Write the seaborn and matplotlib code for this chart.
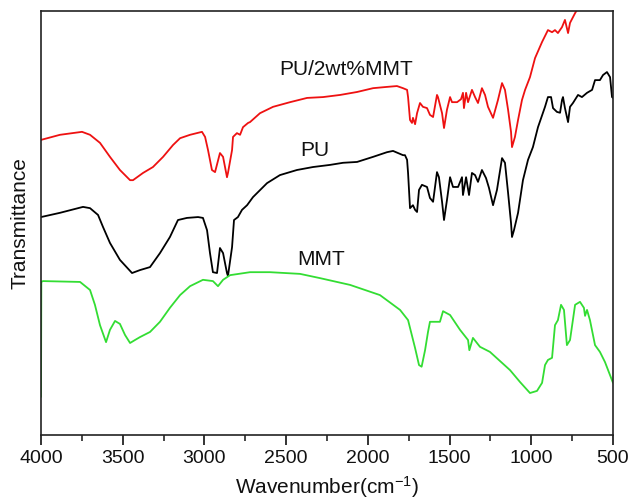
import matplotlib
matplotlib.use("Agg")
import matplotlib.pyplot as plt
import seaborn as sns
import pandas as pd
from matplotlib.ticker import MultipleLocator

# ---- data ----
wn_pumt = [4000, 3884, 3749, 3700, 3639, 3578, 3517, 3455, 3437, 3376, 3315, 3253, 3192, 3149,
           3088, 3015, 2996, 2978, 2954, 2935, 2905, 2886, 2862, 2856, 2831, 2825, 2801, 2782,
           2764, 2733, 2721, 2660, 2580, 2476, 2372, 2274, 2170, 2066, 1968, 1883, 1822, 1785,
           1760, 1754, 1742, 1730, 1724, 1711, 1699, 1681, 1663, 1638, 1620, 1601, 1577, 1571,
           1546, 1534, 1516, 1497, 1485, 1454, 1430, 1418, 1412, 1399, 1387, 1363, 1344, 1326,
           1302, 1283, 1265, 1234, 1204, 1179, 1161, 1142, 1124, 1118, 1100, 1081, 1057, 1038,
           1008, 977, 934, 898, 873, 855, 837, 812, 794, 775, 763, 732, 702, 641, 500]
t_pumt = [69.6, 70.8, 71.5, 70.8, 68.9, 65.6, 62.5, 60.1, 60.1, 61.8, 63.2, 65.6, 68.4, 70.0,
          70.8, 71.5, 70.3, 67.2, 62.5, 62.0, 66.5, 65.6, 60.8, 61.8, 67.2, 70.3, 71.2, 70.8,
          72.6, 73.6, 73.8, 75.9, 77.4, 78.5, 79.5, 79.7, 80.2, 80.9, 81.8, 82.1, 82.3, 81.8,
          81.4, 79.7, 74.3, 73.6, 74.8, 73.3, 75.9, 78.3, 77.4, 77.1, 75.5, 75.0, 80.2, 79.7,
          75.9, 72.4, 76.7, 79.7, 78.5, 78.5, 79.2, 80.7, 77.1, 80.7, 78.5, 81.4, 79.7, 78.3,
          81.8, 80.2, 77.4, 74.8, 79.0, 83.0, 81.4, 76.7, 71.5, 67.9, 70.3, 74.3, 79.0, 81.4,
          84.4, 88.9, 92.7, 95.5, 95.0, 95.5, 94.8, 96.2, 97.9, 94.8, 97.2, 99.5, 101.4, 105.0, 107.0]

wn_pu = [4000, 3884, 3743, 3700, 3651, 3621, 3578, 3517, 3443, 3394, 3333, 3272, 3211, 3162,
         3107, 3039, 3009, 2984, 2966, 2948, 2923, 2905, 2886, 2862, 2856, 2831, 2819, 2795,
         2770, 2739, 2703, 2617, 2538, 2434, 2336, 2232, 2152, 2066, 1968, 1883, 1846, 1785,
         1773, 1760, 1754, 1742, 1724, 1711, 1699, 1687, 1669, 1638, 1620, 1601, 1577, 1565,
         1546, 1534, 1516, 1497, 1479, 1448, 1424, 1418, 1399, 1381, 1363, 1344, 1326, 1302,
         1277, 1259, 1234, 1210, 1179, 1161, 1142, 1124, 1118, 1106, 1081, 1051, 1020, 990,
         959, 916, 898, 879, 867, 843, 824, 812, 806, 794, 775, 763, 745, 714, 690, 659, 628,
         610, 580, 561, 537, 518, 506, 500]
t_pu = [51.4, 52.4, 53.8, 53.5, 51.9, 49.1, 45.3, 41.3, 38.2, 38.9, 39.6, 42.9, 46.7, 50.7,
        51.2, 51.4, 51.2, 48.3, 42.9, 38.4, 38.2, 44.1, 42.9, 38.2, 37.5, 44.3, 50.7, 51.4,
        53.1, 54.2, 56.1, 59.4, 61.3, 62.5, 63.2, 63.7, 64.2, 64.4, 65.6, 66.7, 67.0, 66.0,
        66.0, 64.9, 61.8, 53.5, 54.2, 53.1, 52.6, 57.8, 59.0, 58.5, 55.9, 55.0, 62.0, 60.8,
        55.0, 50.7, 55.4, 60.8, 58.5, 58.5, 60.8, 56.6, 60.8, 56.6, 61.8, 61.3, 59.7, 62.5,
        60.6, 58.3, 54.2, 57.8, 65.3, 64.2, 57.1, 50.0, 46.7, 48.3, 52.4, 60.1, 64.9, 67.9,
        72.6, 77.4, 79.7, 79.7, 77.1, 76.2, 76.0, 79.0, 79.7, 77.1, 73.8, 77.4, 78.3, 80.2,
        79.7, 80.7, 81.4, 83.7, 83.7, 84.9, 85.6, 84.4, 79.7, 79.5]

wn_mmt = [4000, 3998, 3988, 3761, 3700, 3670, 3639, 3602, 3578, 3547, 3517, 3486, 3455, 3425,
          3394, 3333, 3272, 3211, 3149, 3088, 3009, 2948, 2917, 2886, 2843, 2721, 2599, 2415,
          2293, 2109, 1926, 1803, 1754, 1711, 1687, 1671, 1650, 1632, 1620, 1559, 1540, 1497,
          1436, 1387, 1379, 1357, 1314, 1253, 1130, 1069, 1008, 965, 934, 916, 898, 873, 855,
          837, 818, 800, 782, 763, 732, 702, 678, 671, 659, 641, 610, 580, 549, 500]
t_mmt = [9.0, 36.1, 36.3, 36.1, 34.2, 30.7, 25.9, 21.9, 24.8, 26.9, 26.2, 23.6, 21.7, 22.4,
         23.1, 24.3, 26.7, 30.0, 33.0, 35.1, 36.6, 36.3, 35.1, 36.6, 37.7, 38.4, 38.4, 38.0,
         37.0, 35.4, 33.0, 29.5, 27.1, 20.5, 16.5, 16.1, 20.0, 24.3, 26.7, 26.7, 29.2, 28.3,
         24.8, 22.4, 20.0, 22.9, 20.8, 19.6, 15.3, 12.5, 9.9, 10.4, 12.3, 16.5, 17.7, 18.2,
         25.9, 27.1, 30.7, 29.5, 21.2, 22.4, 30.7, 31.4, 30.0, 28.1, 29.5, 27.1, 21.2, 19.6,
         17.2, 12.3]

names = ["PU/2wt%MMT", "PU", "MMT"]
colors = ["#ee1111", "#000000", "#33dd33"]
label_pos_wn = [2134, 2323, 2287]
label_pos_t = [86.1, 67.2, 41.3]
xticks = [4000, 3500, 3000, 2500, 2000, 1500, 1000, 500]

# ---- figure ----
sns.set_style("ticks")
plt.rcParams["font.family"] = ["Liberation Sans", "DejaVu Sans"]
plt.rcParams["mathtext.default"] = "regular"

fig = plt.figure(figsize=(6.3, 5.0), dpi=100)
ax = fig.add_axes([41 / 630, 65 / 500, 572 / 630, 424 / 500])

df_list = []
for name, (wn, t) in zip(names, [(wn_pumt, t_pumt), (wn_pu, t_pu), (wn_mmt, t_mmt)]):
    df_list.append(pd.DataFrame({"wn": wn, "t": t, "sample": name}))
df = pd.concat(df_list, ignore_index=True)

sns.lineplot(data=df, x="wn", y="t", hue="sample", palette=dict(zip(names, colors)),
             sort=False, estimator=None, linewidth=1.3, legend=False, ax=ax)

for name, x, y in zip(names, label_pos_wn, label_pos_t):
    ax.text(x, y, name, fontsize=15, ha="center", va="center", color="#111111")

ax.set_xlim(4000, 500)
ax.set_ylim(0, 100)
ax.set_xticks(xticks)
ax.xaxis.set_minor_locator(MultipleLocator(250))
ax.set_yticks([])
ax.tick_params(axis="x", which="major", direction="out", length=7, width=1.2,
               labelsize=14, pad=4, colors="#111111")
ax.tick_params(axis="x", which="minor", direction="out", length=4, width=1.2)
ax.tick_params(top=False, right=False)
for s in ax.spines.values():
    s.set_visible(True)
    s.set_linewidth(1.2)
    s.set_color("#222222")

ax.set_xlabel("Wavenumber(cm$^{-1}$)", fontsize=15, labelpad=5, color="#111111")
ax.set_ylabel("Transmittance", fontsize=15, labelpad=8, color="#111111")

fig.savefig("out.png", dpi=100)
